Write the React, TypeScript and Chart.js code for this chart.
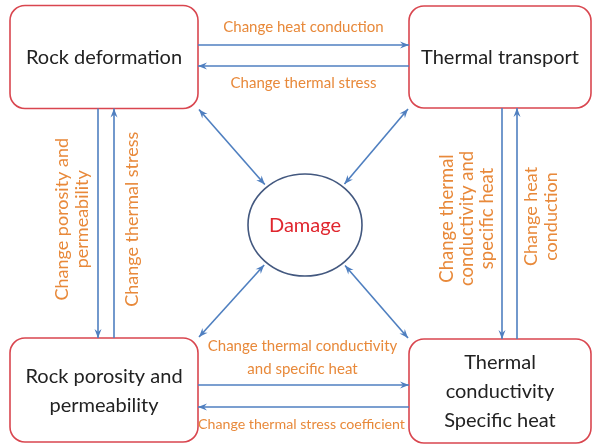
import React, { useEffect, useRef } from "react";
import { Chart, registerables } from "chart.js";

Chart.register(...registerables);

// ---- Data: nodes of the diagram (centres in diagram units) ----
const nodeNames = [
  ["Rock deformation"],
  ["Thermal transport"],
  ["Rock porosity and", "permeability"],
  ["Thermal", "conductivity", "Specific heat"],
  ["Damage"],
];
const nodeX = [104, 500, 104, 500, 305];
const nodeY = [57, 57, 390, 391, 225];

// ---- Data: directed links between nodes ----
const edgeFrom = [0, 1, 0, 2, 1, 3, 2, 3];
const edgeTo = [1, 0, 2, 0, 3, 1, 3, 2];
const edgeLabels = [
  ["Change heat conduction"],
  ["Change thermal stress"],
  ["Change porosity and", "permeability"],
  ["Change thermal stress"],
  ["Change thermal", "conductivity and", "specific heat"],
  ["Change heat", "conduction"],
  ["Change thermal conductivity", "and specific heat"],
  ["Change thermal stress coefficient"],
];
// two-way links to the central node
const linkToCentre = [0, 1, 2, 3];

// ---- Layout / style (not data) ----
const BOX_W = [188, 182, 188, 182];
const BOX_H = [103, 102, 104, 104];
const ELL_RX = 57;
const ELL_RY = 51;
const LANE = [-12, 9, -6, 10, 2, 17, -5.5, 16.5];
const LABEL_OFF = [-18, 17, -25.5, 18, -34.5, 24.5, -27.5, 17];
const LABEL_SHIFT = [0, 0, -4, -4, -5, -7, -1, -2];
const LABEL_SIZE = [15, 15, 18, 18, 18.5, 18, 15, 14.2];

const BLUE = "#4f7fc0";
const RED = "#d9464f";
const ORANGE = "#e8893a";
const FONT = "Lato, 'Open Sans', sans-serif";

function roundRect(ctx: CanvasRenderingContext2D, x: number, y: number, w: number, h: number, r: number) {
  ctx.beginPath();
  ctx.moveTo(x + r, y);
  ctx.lineTo(x + w - r, y);
  ctx.arcTo(x + w, y, x + w, y + r, r);
  ctx.lineTo(x + w, y + h - r);
  ctx.arcTo(x + w, y + h, x + w - r, y + h, r);
  ctx.lineTo(x + r, y + h);
  ctx.arcTo(x, y + h, x, y + h - r, r);
  ctx.lineTo(x, y + r);
  ctx.arcTo(x, y, x + r, y, r);
  ctx.closePath();
}

function arrowHead(ctx: CanvasRenderingContext2D, x1: number, y1: number, x2: number, y2: number) {
  const a = Math.atan2(y2 - y1, x2 - x1);
  const len = 9;
  const wid = 3.5;
  ctx.beginPath();
  ctx.moveTo(x2, y2);
  ctx.lineTo(x2 - len * Math.cos(a) + wid * Math.sin(a), y2 - len * Math.sin(a) - wid * Math.cos(a));
  ctx.lineTo(x2 - (len - 3) * Math.cos(a), y2 - (len - 3) * Math.sin(a));
  ctx.lineTo(x2 - len * Math.cos(a) - wid * Math.sin(a), y2 - len * Math.sin(a) + wid * Math.cos(a));
  ctx.closePath();
  ctx.fill();
}

function arrow(ctx: CanvasRenderingContext2D, x1: number, y1: number, x2: number, y2: number, both = false) {
  ctx.beginPath();
  ctx.moveTo(x1, y1);
  ctx.lineTo(x2, y2);
  ctx.stroke();
  arrowHead(ctx, x1, y1, x2, y2);
  if (both) arrowHead(ctx, x2, y2, x1, y1);
}

const diagramPlugin = {
  id: "diagram",
  afterDraw(chart: any) {
    const ctx: CanvasRenderingContext2D = chart.ctx;
    const sx = chart.scales.x;
    const sy = chart.scales.y;
    const px = (v: number) => sx.getPixelForValue(v);
    const py = (v: number) => sy.getPixelForValue(v);
    const ux = px(1) - px(0);
    const uy = Math.abs(py(1) - py(0));

    const box = (i: number) => {
      const cx = px(nodeX[i]);
      const cy = py(nodeY[i]);
      const w = BOX_W[i] * ux;
      const h = BOX_H[i] * uy;
      return { l: cx - w / 2, r: cx + w / 2, t: cy - h / 2, b: cy + h / 2, cx, cy };
    };

    ctx.save();
    ctx.fillStyle = "#ffffff";
    ctx.fillRect(0, 0, chart.width, chart.height);

    // boxes
    for (let i = 0; i < 4; i++) {
      const b = box(i);
      roundRect(ctx, b.l, b.t, b.r - b.l, b.b - b.t, 15);
      ctx.fillStyle = "#fff";
      ctx.fill();
      ctx.strokeStyle = RED;
      ctx.lineWidth = 1.6;
      ctx.stroke();
      ctx.fillStyle = "#222222";
      ctx.font = `20px ${FONT}`;
      ctx.textAlign = "center";
      ctx.textBaseline = "middle";
      const lines = nodeNames[i];
      const lh = 29;
      lines.forEach((t, k) => {
        ctx.fillText(t, b.cx, b.cy + (k - (lines.length - 1) / 2) * lh + 1);
      });
    }

    // central ellipse
    const ecx = px(nodeX[4]);
    const ecy = py(nodeY[4]);
    const rx = ELL_RX * ux;
    const ry = ELL_RY * uy;
    ctx.beginPath();
    ctx.ellipse(ecx, ecy, rx, ry, 0, 0, Math.PI * 2);
    ctx.strokeStyle = "#43587f";
    ctx.lineWidth = 1.6;
    ctx.stroke();
    ctx.fillStyle = "#e0262e";
    ctx.font = `20px ${FONT}`;
    ctx.textAlign = "center";
    ctx.textBaseline = "middle";
    ctx.fillText(nodeNames[4][0], ecx, ecy + 1);

    // directed edges
    ctx.lineWidth = 1.6;
    const labelPos: any[] = [];
    edgeFrom.forEach((f, e) => {
      const t = edgeTo[e];
      const A = box(f);
      const B = box(t);
      const horizontal = Math.abs(A.cy - B.cy) < Math.abs(A.cx - B.cx);
      ctx.strokeStyle = BLUE;
      ctx.fillStyle = BLUE;
      if (horizontal) {
        const y = (A.cy + B.cy) / 2 + LANE[e] * uy;
        const x1 = A.cx < B.cx ? A.r : A.l;
        const x2 = A.cx < B.cx ? B.l : B.r;
        arrow(ctx, x1, y, x2, y);
        labelPos.push({ x: (x1 + x2) / 2 + LABEL_SHIFT[e], y: y + LABEL_OFF[e] * uy, rot: false });
      } else {
        const x = (A.cx + B.cx) / 2 + LANE[e] * ux;
        const y1 = A.cy < B.cy ? A.b : A.t;
        const y2 = A.cy < B.cy ? B.t : B.b;
        arrow(ctx, x, y1, x, y2);
        labelPos.push({ x: x + LABEL_OFF[e] * ux, y: (y1 + y2) / 2 + LABEL_SHIFT[e], rot: true });
      }
    });

    // two-way links to centre
    linkToCentre.forEach((i) => {
      const b = box(i);
      const cx = b.cx < ecx ? b.r + 1 : b.l - 1;
      const cy = b.cy < ecy ? b.b + 1 : b.t - 1;
      const dx = ecx - cx;
      const dy = ecy - cy;
      const k = 1 / Math.sqrt((dx / rx) ** 2 + (dy / ry) ** 2);
      const ex = ecx - dx * k - Math.sign(dx) * 4;
      const ey = ecy - dy * k - Math.sign(dy) * 1;
      arrow(ctx, cx, cy, ex, ey, true);
    });

    // edge labels
    ctx.fillStyle = ORANGE;
    ctx.textAlign = "center";
    ctx.textBaseline = "middle";
    edgeLabels.forEach((lines, e) => {
      const p = labelPos[e];
      ctx.font = `${LABEL_SIZE[e]}px ${FONT}`;
      const lh = p.rot ? 20 : 23;
      ctx.save();
      ctx.translate(p.x, p.y);
      if (p.rot) ctx.rotate(-Math.PI / 2);
      lines.forEach((t, k) => {
        ctx.fillText(t, 0, (k - (lines.length - 1) / 2) * lh);
      });
      ctx.restore();
    });
    ctx.restore();
  },
};

export default function App() {
  const ref = useRef<HTMLCanvasElement>(null);
  useEffect(() => {
    document.body.style.margin = "0";
    const chart = new Chart(ref.current as HTMLCanvasElement, {
      type: "scatter",
      data: {
        datasets: [
          {
            data: nodeX.map((x, i) => ({ x, y: nodeY[i] })),
            pointRadius: 0,
            showLine: false,
          },
        ],
      },
      options: {
        responsive: false,
        animation: false,
        devicePixelRatio: 1,
        layout: { padding: 0 },
        scales: {
          x: { type: "linear", min: 0, max: 594, display: false },
          y: { type: "linear", min: 0, max: 444, reverse: true, display: false },
        },
        plugins: { legend: { display: false }, tooltip: { enabled: false } },
      },
      plugins: [diagramPlugin],
    });
    return () => chart.destroy();
  }, []);
  return <canvas ref={ref} width={594} height={444} style={{ display: "block" }} />;
}
